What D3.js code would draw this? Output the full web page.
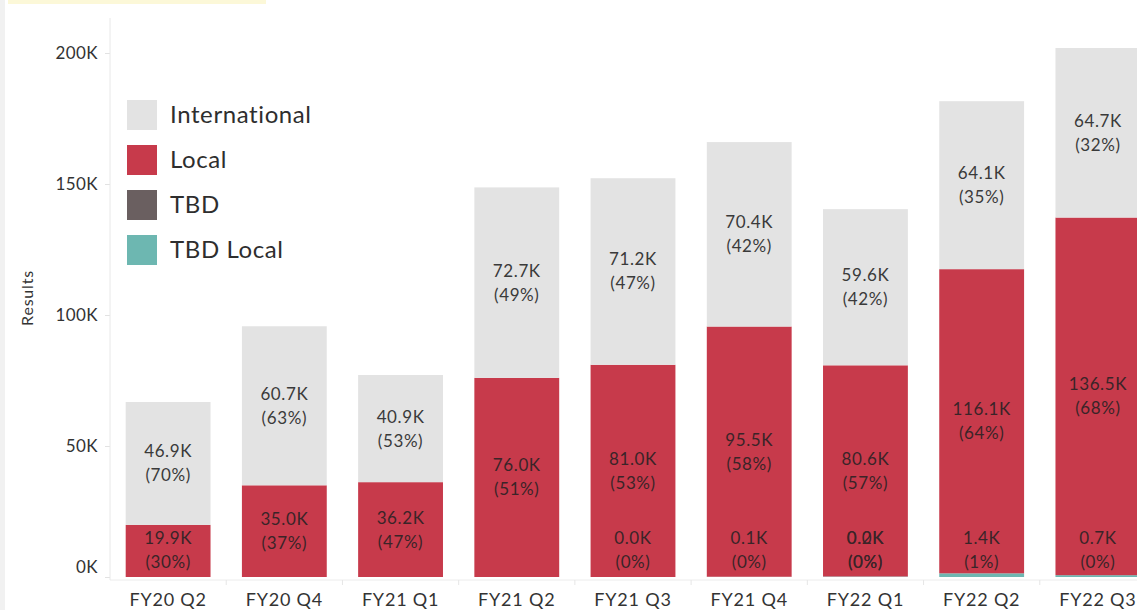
<!DOCTYPE html>
<html>
<head>
<meta charset="utf-8">
<script src="https://cdn.jsdelivr.net/npm/d3@7"></script>
<style>
  html, body { margin: 0; padding: 0; background: #fff; overflow: hidden; }
  svg { display: block; font-family: Lato, "Open Sans", sans-serif; }
</style>
</head>
<body>
<svg id="chart" width="1137" height="610"></svg>
<script>
// quarters on the x axis
var quarters = ["FY20 Q2", "FY20 Q4", "FY21 Q1", "FY21 Q2", "FY21 Q3", "FY21 Q4", "FY22 Q1", "FY22 Q2", "FY22 Q3"];

// values in thousands, null = no label / no segment
var international = [46.9, 60.7, 40.9, 72.7, 71.2, 70.4, 59.6, 64.1, 64.7];
var local         = [19.9, 35.0, 36.2, 76.0, 81.0, 95.5, 80.6, 116.1, 136.5];
var tbd           = [null, null, null, null, null, null, 0.0, null, null];
var tbdLocal      = [null, null, null, null, 0.0, 0.1, 0.2, 1.4, 0.7];

var yTicks = [0, 50, 100, 150, 200];

var seriesNames = ["International", "Local", "TBD", "TBD Local"];
var colors = {
  "International": "#e3e3e3",
  "Local": "#c73a4b",
  "TBD": "#6a5f60",
  "TBD Local": "#6db7b1"
};

var svg = d3.select("#chart");

// left grey strip of the screenshot
svg.append("rect")
   .attr("x", 0).attr("y", 0)
   .attr("width", 5).attr("height", 610)
   .attr("fill", "#f1f1f1");

// cut-off title band at the very top
svg.append("rect")
   .attr("x", 8).attr("y", 0)
   .attr("width", 258).attr("height", 4)
   .attr("fill", "#fcf8d8");

// build rows for the stack
var rows = quarters.map(function(q, i){
  return {
    quarter: q,
    "TBD Local": tbdLocal[i],
    "TBD": tbd[i],
    "Local": local[i],
    "International": international[i]
  };
});

// bottom-up order
var stackKeys = ["TBD Local", "TBD", "Local", "International"];
var stack = d3.stack()
  .keys(stackKeys)
  .value(function(d, k){ return d[k] || 0; });
var layers = stack(rows);

var x = d3.scaleBand()
  .domain(quarters)
  .range([110, 1156])
  .paddingInner(0.27)
  .paddingOuter(0.135);

var y = d3.scaleLinear()
  .domain([0, 200])
  .range([577, 53]);

// x baseline and tick separators
svg.append("line")
   .attr("x1", 110).attr("x2", 1137)
   .attr("y1", 580).attr("y2", 580)
   .attr("stroke", "#ececec");
svg.selectAll("line.sep")
   .data(quarters.slice(1))
   .enter()
     .append("line")
     .attr("class", "sep")
     .attr("x1", function(d){ return x(d) - x.step() * x.paddingInner() / 2; })
     .attr("x2", function(d){ return x(d) - x.step() * x.paddingInner() / 2; })
     .attr("y1", 580).attr("y2", 585)
     .attr("stroke", "#e6e6e6");

// bars
var layer = svg.selectAll("g.layer")
  .data(layers)
  .enter()
    .append("g")
    .attr("class", "layer")
    .attr("fill", function(d){ return colors[d.key]; });

layer.selectAll("rect")
  .data(function(d){ return d; })
  .enter()
    .append("rect")
    .attr("x", function(d){ return x(d.data.quarter); })
    .attr("width", x.bandwidth())
    .attr("y", function(d){ return y(d[1]); })
    .attr("height", function(d){ return Math.max(0, y(d[0]) - y(d[1])); });

// segment labels
var labels = [];
layers.forEach(function(l){
  l.forEach(function(d){
    var v = d.data[l.key];
    if (v === null || v === undefined) return;
    var total = stackKeys.reduce(function(s, k){ return s + (d.data[k] || 0); }, 0);
    var mid = (y(d[0]) + y(d[1])) / 2;
    labels.push({
      quarter: d.data.quarter,
      cy: Math.min(mid, y(0) - 27),
      value: v.toFixed(1) + "K",
      pct: "(" + Math.round(v / total * 100) + "%)",
      key: l.key
    });
  });
});

var lab = svg.selectAll("g.lab")
  .data(labels)
  .enter()
    .append("g")
    .attr("class", "lab")
    .attr("transform", function(d){
      return "translate(" + (x(d.quarter) + x.bandwidth() / 2) + "," + d.cy + ")";
    })
    .style("font-size", "17px")
    .style("letter-spacing", "0.6px")
    .attr("text-anchor", "middle")
    .attr("fill", function(d){ return d.key === "International" ? "#3a3a3a" : "#3a2428"; });

lab.append("text")
   .attr("y", -12)
   .attr("dy", "0.35em")
   .text(function(d){ return d.value; });
lab.append("text")
   .attr("y", 12)
   .attr("dy", "0.35em")
   .text(function(d){ return d.pct; });

// y axis
var yAxis = d3.axisLeft(y)
  .tickValues(yTicks)
  .tickSize(5)
  .tickPadding(7)
  .tickFormat(function(d){ return d + "K"; });

var yg = svg.append("g")
  .attr("transform", "translate(110,0)")
  .call(yAxis);
yg.select(".domain").remove();
yg.selectAll(".tick line").attr("stroke", "#e2e2e2");
yg.selectAll(".tick text")
  .attr("fill", "#333")
  .style("font-size", "17px")
  .style("letter-spacing", "0.4px")
  .style("font-family", "Lato, sans-serif");
// bottom label sits a bit higher, as in the source
yg.selectAll(".tick text")
  .filter(function(d){ return d === 0; })
  .attr("y", -10);

svg.append("line")
   .attr("x1", 110).attr("x2", 110)
   .attr("y1", 18).attr("y2", 580)
   .attr("stroke", "#e8e8e8");

// x axis labels
var xAxis = d3.axisBottom(x).tickSize(0).tickPadding(0);
var xg = svg.append("g")
  .attr("transform", "translate(0,593)")
  .call(xAxis);
xg.select(".domain").remove();
xg.selectAll(".tick text")
  .attr("fill", "#333")
  .attr("dy", "0.35em")
  .attr("y", 7)
  .style("font-size", "18px")
  .style("letter-spacing", "0.8px")
  .style("font-family", "Lato, sans-serif");

// axis title
svg.append("text")
   .attr("transform", "translate(33,298) rotate(-90)")
   .attr("text-anchor", "middle")
   .attr("fill", "#333")
   .style("font-size", "16px")
   .style("letter-spacing", "0.8px")
   .text("Results");

// legend
var legend = svg.selectAll("g.legend")
  .data(seriesNames)
  .enter()
    .append("g")
    .attr("class", "legend")
    .attr("transform", function(d, i){ return "translate(127," + (100 + i * 45) + ")"; });

legend.append("rect")
  .attr("width", 30)
  .attr("height", 30)
  .attr("fill", function(d){ return colors[d]; });

legend.append("text")
  .attr("x", 43)
  .attr("y", 15)
  .attr("dy", "0.35em")
  .attr("fill", "#2e2e2e")
  .style("font-size", "24px")
  .style("letter-spacing", "0.6px")
  .text(function(d){ return d; });
</script>
</body>
</html>
